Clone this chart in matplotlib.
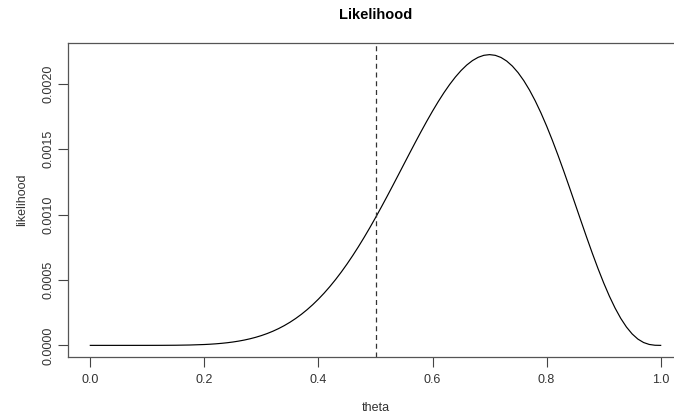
import matplotlib.pyplot as plt

plt.rcParams['font.family'] = ['Liberation Sans', 'DejaVu Sans']

# likelihood values on a theta grid (coarse on the flat left tail, 0.01 after 0.2)
theta = [0.0, 0.025, 0.05, 0.075, 0.1, 0.125, 0.15, 0.175,
         0.20, 0.21, 0.22, 0.23, 0.24, 0.25, 0.26, 0.27, 0.28, 0.29,
         0.30, 0.31, 0.32, 0.33, 0.34, 0.35, 0.36, 0.37, 0.38, 0.39,
         0.40, 0.41, 0.42, 0.43, 0.44, 0.45, 0.46, 0.47, 0.48, 0.49,
         0.50, 0.51, 0.52, 0.53, 0.54, 0.55, 0.56, 0.57, 0.58, 0.59,
         0.60, 0.61, 0.62, 0.63, 0.64, 0.65, 0.66, 0.67, 0.68, 0.69,
         0.70, 0.71, 0.72, 0.73, 0.74, 0.75, 0.76, 0.77, 0.78, 0.79,
         0.80, 0.81, 0.82, 0.83, 0.84, 0.85, 0.86, 0.87, 0.88, 0.89,
         0.90, 0.91, 0.92, 0.93, 0.94, 0.95, 0.96, 0.97, 0.98, 0.99, 1.00]
likelihood = [0.0, 0.0, 0.0, 0.00000001, 0.00000007, 0.00000032, 0.00000105,
              0.00000282,
              0.00000655, 0.00000888, 0.00001184, 0.00001554, 0.00002013,
              0.00002575, 0.00003255, 0.00004069, 0.00005036, 0.00006174,
              0.00007501, 0.00009038, 0.00010804, 0.00012818, 0.00015100,
              0.00017669, 0.00020543, 0.00023737, 0.00027269, 0.00031149,
              0.00035389, 0.00039998, 0.00044981, 0.00050339, 0.00056070,
              0.00062169, 0.00068626, 0.00075425, 0.00082546, 0.00089966,
              0.00097656, 0.00105580, 0.00113695, 0.00121961, 0.00130326,
              0.00138731, 0.00147120, 0.00155428, 0.00163585, 0.00171520,
              0.00179159, 0.00186424, 0.00193238, 0.00199521, 0.00205196,
              0.00210183, 0.00214410, 0.00217804, 0.00220299, 0.00221835,
              0.00222357, 0.00221821, 0.00220192, 0.00217446, 0.00213571,
              0.00208569, 0.00202455, 0.00195262, 0.00187039, 0.00177847,
              0.00167772, 0.00156912, 0.00145383, 0.00133320, 0.00120869,
              0.00108195, 0.00095471, 0.00082883, 0.00070619, 0.00058872,
              0.00047830, 0.00037672, 0.00028562, 0.00020638, 0.00014007,
              0.00008729, 0.00004809, 0.00002182, 0.00000695, 0.00000093,
              0.0]
mle_line = 0.5
xticks = [0.0, 0.2, 0.4, 0.6, 0.8, 1.0]
yticks = [0.0, 0.0005, 0.0010, 0.0015, 0.0020]

W, H = 674, 416
fig = plt.figure(figsize=(W / 100, H / 100), dpi=100)
ax = fig.add_axes([67.5 / W, 1 - 357 / H, 616 / W, 314 / H])

ax.plot(theta, likelihood, color='black', lw=0.85)
ax.axvline(mle_line, color='#333333', lw=0.9, ls=(0, (4, 3)))

ymax = max(likelihood)
ax.set_xlim(-0.04, 1.04)
ax.set_ylim(-0.04 * ymax, 1.04 * ymax)

ax.set_xticks(xticks)
ax.set_xticklabels([f'{v:.1f}' for v in xticks])
ax.set_yticks(yticks)
ax.set_yticklabels([f'{v:.4f}' for v in yticks], rotation=90, va='center')
ax.tick_params(direction='out', length=7, width=0.8, labelsize=9,
               colors='#444444', labelcolor='#333333')
ax.tick_params(axis='x', pad=5)
ax.tick_params(axis='y', pad=2)
for s in ax.spines.values():
    s.set_color('#555555')
    s.set_linewidth(0.9)

ax.set_title('Likelihood', fontsize=10.5, fontweight='bold', pad=17)
ax.set_xlabel('theta', fontsize=9, color='#333333', labelpad=12)
ax.set_ylabel('likelihood', fontsize=9, color='#333333', labelpad=11)

fig.savefig('out.png', dpi=100)
